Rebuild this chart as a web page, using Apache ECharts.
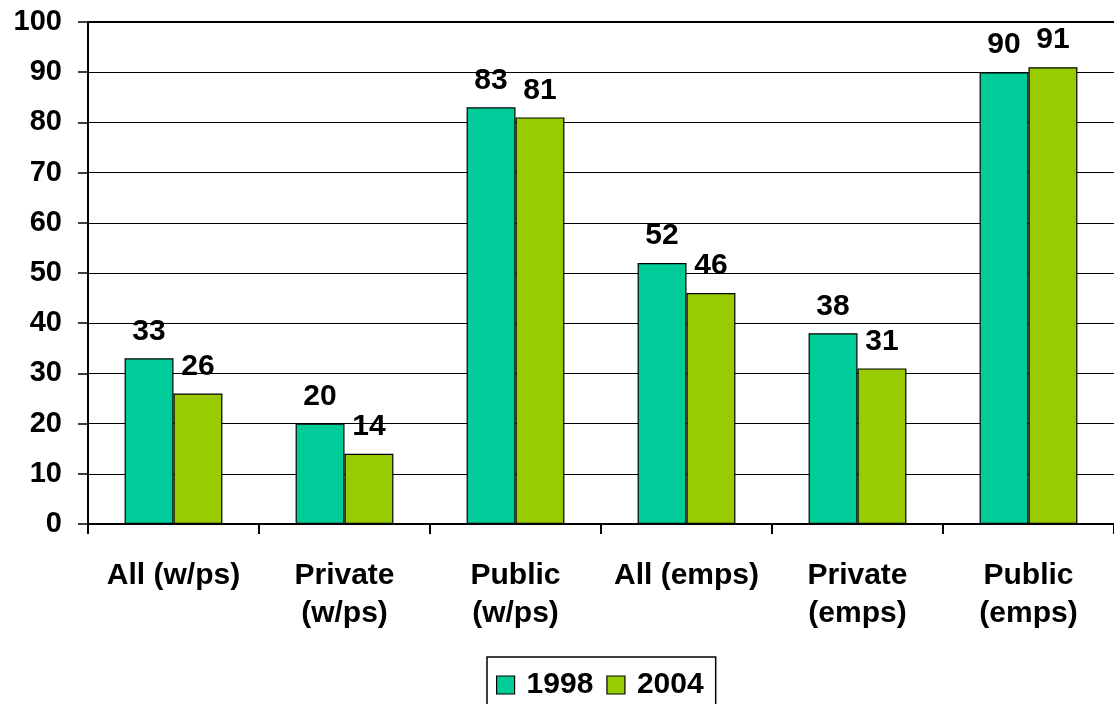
<!DOCTYPE html>
<html>
<head>
<meta charset="utf-8">
<script src="https://cdn.jsdelivr.net/npm/echarts@6/dist/echarts.min.js"></script>
<style>
  html, body { margin: 0; padding: 0; background: #fff; }
  #chart { width: 1114px; height: 704px; }
</style>
</head>
<body>
<div id="chart"></div>
<script>
// Category labels (two-line where the group name wraps)
const categories = [
  'All (w/ps)',
  'Private\n(w/ps)',
  'Public\n(w/ps)',
  'All (emps)',
  'Private\n(emps)',
  'Public\n(emps)'
];
const seriesNames = ['1998', '2004'];
const values1998 = [33, 20, 83, 52, 38, 90];
const values2004 = [26, 14, 81, 46, 31, 91];
const yTicks = { min: 0, max: 100, interval: 10 };

const FONT = '"Liberation Sans", Arial, sans-serif';
const colors = ['#00CC99', '#99CC00'];

const chart = echarts.init(document.getElementById('chart'), null, { renderer: 'canvas' });

function barSeries(name, data, color) {
  return {
    name: name,
    type: 'bar',
    data: data,
    barWidth: '28.6%',
    barGap: '0%',
    itemStyle: { color: color, borderColor: '#000', borderWidth: 1.2 },
    label: {
      show: true,
      position: 'top',
      distance: 12,
      color: '#000',
      fontFamily: FONT,
      fontWeight: 'bold',
      fontSize: 30
    },
    emphasis: { disabled: true },
    animation: false
  };
}

chart.setOption({
  backgroundColor: '#fff',
  animation: false,
  grid: { left: 88, right: 0, top: 22, bottom: 180, containLabel: false },
  xAxis: [
    {
      type: 'category',
      data: categories,
      position: 'bottom',
      axisLine: { show: true, lineStyle: { color: '#000', width: 2 } },
      axisTick: { show: true, alignWithLabel: false, length: 10, lineStyle: { color: '#000', width: 2 } },
      axisLabel: {
        color: '#000',
        fontFamily: FONT,
        fontWeight: 'bold',
        fontSize: 30,
        lineHeight: 38,
        margin: 33,
        interval: 0
      }
    },
    {
      // frame line along the top of the plot
      type: 'category',
      data: categories,
      position: 'top',
      axisLine: { show: true, lineStyle: { color: '#000', width: 2 } },
      axisTick: { show: false },
      axisLabel: { show: false }
    }
  ],
  yAxis: {
    type: 'value',
    min: yTicks.min,
    max: yTicks.max,
    interval: yTicks.interval,
    axisLine: { show: true, lineStyle: { color: '#000', width: 2 } },
    axisTick: { show: true, length: 10, lineStyle: { color: '#000', width: 1.5 } },
    splitLine: { show: true, lineStyle: { color: '#000', width: 1.2 } },
    axisLabel: {
      color: '#000',
      fontFamily: FONT,
      fontWeight: 'bold',
      fontSize: 29,
      margin: 26
    }
  },
  legend: {
    data: seriesNames,
    left: 487,
    top: 657,
    orient: 'horizontal',
    icon: 'rect',
    itemWidth: 18,
    itemHeight: 18,
    itemGap: 13,
    padding: [13, 12, 13, 9],
    borderColor: '#000',
    borderWidth: 1.5,
    itemStyle: { borderColor: '#000', borderWidth: 1.2 },
    textStyle: {
      color: '#000',
      fontFamily: FONT,
      fontWeight: 'bold',
      fontSize: 30,
      padding: [0, 0, 0, 7]
    },
    selectedMode: false
  },
  series: [
    barSeries(seriesNames[0], values1998, colors[0]),
    barSeries(seriesNames[1], values2004, colors[1])
  ]
});
</script>
</body>
</html>
